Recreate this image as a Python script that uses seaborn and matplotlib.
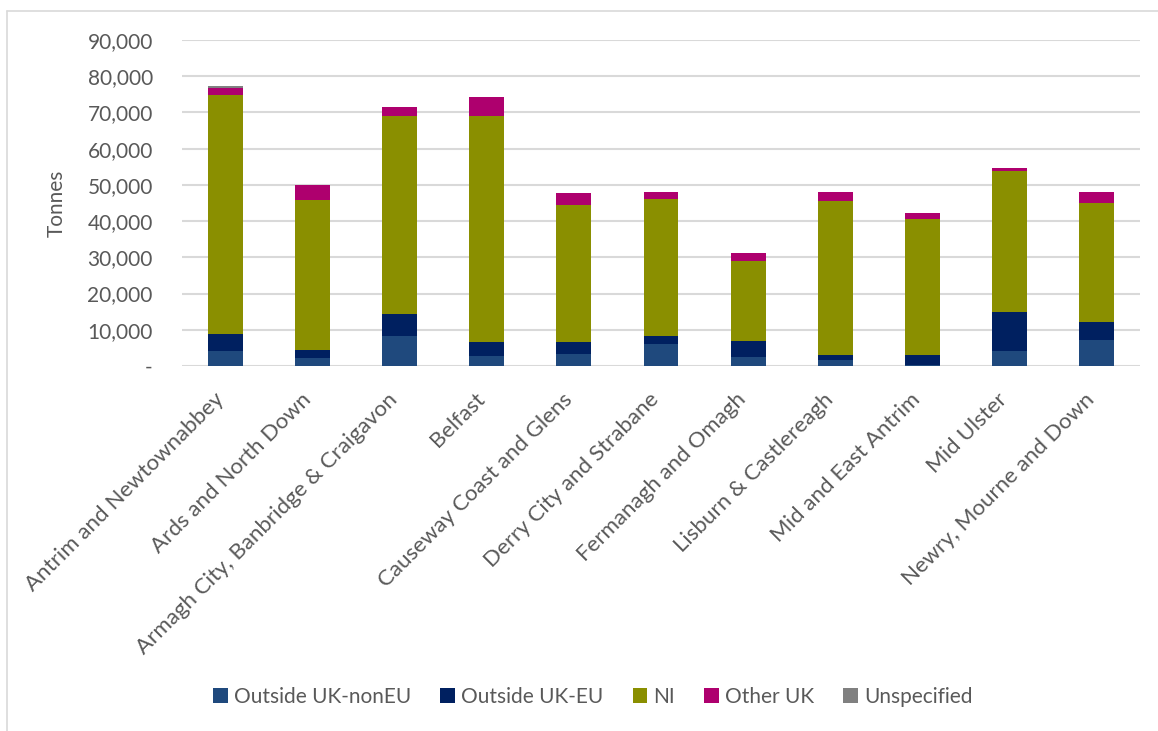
import matplotlib
matplotlib.use("Agg")
import matplotlib.pyplot as plt
from matplotlib.ticker import FuncFormatter, MultipleLocator
from matplotlib.lines import Line2D
from matplotlib.patches import Patch
import matplotlib.transforms as mtransforms
import numpy as np
import pandas as pd
import seaborn as sns

# Council areas and tonnage by origin
councils = [
    "Antrim and Newtownabbey",
    "Ards and North Down",
    "Armagh City, Banbridge & Craigavon",
    "Belfast",
    "Causeway Coast and Glens",
    "Derry City and Strabane",
    "Fermanagh and Omagh",
    "Lisburn & Castlereagh",
    "Mid and East Antrim",
    "Mid Ulster",
    "Newry, Mourne and Down",
]
outside_uk_noneu = [4150, 2300, 8300, 2770, 3410, 6000, 2580, 1570, 200, 4060, 7290]
outside_uk_eu = [4700, 2030, 6170, 3780, 3230, 2300, 4240, 1570, 2750, 10890, 4890]
ni = [66000, 41570, 54470, 62400, 37730, 37730, 22050, 42340, 37730, 38930, 32750]
other_uk = [1850, 4050, 2580, 5350, 3500, 2120, 2210, 2490, 1660, 740, 3040]
unspecified = [550, 0, 0, 0, 0, 0, 0, 0, 0, 0, 0]

series_names = ["Outside UK-nonEU", "Outside UK-EU", "NI", "Other UK", "Unspecified"]
series_values = [outside_uk_noneu, outside_uk_eu, ni, other_uk, unspecified]
colors = ["#1F497D", "#002060", "#8A8F00", "#AE006E", "#808080"]

text_color = "#595959"
font_size = 15

sns.set_theme(style="white")
plt.rcParams["font.family"] = ["Lato", "DejaVu Sans"]
plt.rcParams["text.color"] = text_color
plt.rcParams["axes.labelcolor"] = text_color
plt.rcParams["xtick.color"] = text_color
plt.rcParams["ytick.color"] = text_color

fig = plt.figure(figsize=(11.58, 7.31), dpi=100)
ax = fig.add_axes([182 / 1158, 1 - 366 / 731, (1140 - 182) / 1158, (366 - 40) / 731])

# Stacked bars: draw cumulative totals from the top layer down
df = pd.DataFrame({"council": councils})
cum = np.zeros(len(councils))
cums = []
for vals in series_values:
    cum = cum + np.array(vals, dtype=float)
    cums.append(cum.copy())

for i in reversed(range(len(series_names))):
    df["value"] = cums[i]
    sns.barplot(data=df, x="council", y="value", color=colors[i], width=0.4,
                saturation=1, ax=ax, zorder=3 + (len(series_names) - i),
                edgecolor="none", linewidth=0, errorbar=None)

ax.set_ylim(0, 90000)
ax.set_xlim(-0.5, len(councils) - 0.5)
ax.yaxis.set_major_locator(MultipleLocator(10000))
ax.yaxis.set_major_formatter(FuncFormatter(lambda v, p: "-" if v == 0 else f"{int(v):,}"))
ax.grid(axis="y", color="#D9D9D9", linewidth=1.5, zorder=0)
ax.set_axisbelow(True)
for s in ax.spines.values():
    s.set_visible(False)

ax.tick_params(axis="both", length=0, labelsize=font_size)
ax.tick_params(axis="y", pad=21)
ax.tick_params(axis="x", pad=8)
ax.set_xlabel("")
ax.set_xticks(range(len(councils)))
ax.set_xticklabels(councils, rotation=45, ha="right", va="top", rotation_mode="anchor",
                   fontsize=16)
shift = mtransforms.ScaledTranslation(-12 / 100, -12 / 100, fig.dpi_scale_trans)
for lbl in ax.get_xticklabels():
    lbl.set_transform(lbl.get_transform() + shift)
ax.set_ylabel("Tonnes", fontsize=font_size)
ax.yaxis.set_label_coords((67 - 182) / 958, 0.5)

handles = [Patch(facecolor=c, edgecolor="none") for c in colors]
fig.legend(handles, series_names, loc="center", bbox_to_anchor=(593 / 1158, 1 - 697 / 731),
           ncol=5, frameon=False, fontsize=15, handlelength=0.7, handleheight=0.7,
           handletextpad=0.3, columnspacing=1.4)

# Chart area border (top and left edges)
fig.add_artist(Line2D([7 / 1158, 1], [1 - 11 / 731, 1 - 11 / 731], transform=fig.transFigure,
                      color="#D9D9D9", linewidth=1.2))
fig.add_artist(Line2D([7 / 1158, 7 / 1158], [0, 1 - 11 / 731], transform=fig.transFigure,
                      color="#D9D9D9", linewidth=1.2))

fig.savefig("out.png", dpi=100, facecolor="white")
